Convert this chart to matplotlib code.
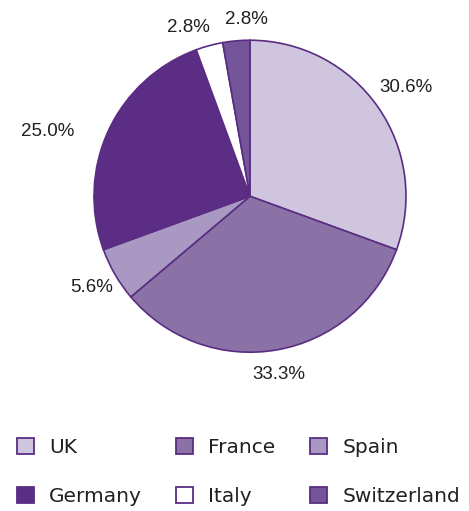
import matplotlib
matplotlib.use("Agg")
import matplotlib.pyplot as plt
from matplotlib.patches import Patch
from matplotlib import font_manager
import numpy as np

countries = ["UK", "France", "Spain", "Germany", "Italy", "Switzerland"]
shares = [30.6, 33.3, 5.6, 25.0, 2.8, 2.8]
labels = ["30.6%", "33.3%", "5.6%", "25.0%", "2.8%", "2.8%"]
colors = ["#d0c5de", "#8b72a6", "#a898c2", "#5b2d84", "#ffffff", "#74559a"]
edge = "#5a2d82"

names = {f.name for f in font_manager.fontManager.ttflist}
label_font = "Liberation Sans Narrow" if "Liberation Sans Narrow" in names else "Liberation Sans"

fig = plt.figure(figsize=(4.69, 5.11), dpi=100)
ax = fig.add_axes([0.533 - 0.3326, 0.616 - 0.3053, 0.6652, 0.6106])
wedges, _ = ax.pie(shares, colors=colors, startangle=90, counterclock=False,
                   wedgeprops=dict(edgecolor=edge, linewidth=1.2))
ax.set_aspect("equal")
ax.set_xlim(-1, 1); ax.set_ylim(-1, 1)

dists = [1.22, 1.16, 1.17, 1.36, 1.15, 1.13]
offs = [0, -1, 0, 7, 5, -4]
for w, lab, d, o in zip(wedges, labels, dists, offs):
    ang = np.deg2rad((w.theta1 + w.theta2) / 2 + o)
    ax.text(d * np.cos(ang), d * np.sin(ang), lab, ha="center", va="center",
            fontsize=13.5, family=label_font, color="#231f20")

order = [0, 3, 1, 4, 2, 5]
handles = [Patch(facecolor=colors[i], edgecolor=edge, linewidth=1.3, label=countries[i]) for i in order]
leg = fig.legend(handles=handles, ncol=3, loc="upper left", bbox_to_anchor=(0.036, 0.143),
                 frameon=False, handlelength=0.85, handleheight=0.85,
                 handletextpad=0.75, columnspacing=1.7, labelspacing=1.5,
                 borderaxespad=0, borderpad=0, prop=dict(family="DejaVu Sans", size=14.5))
for t in leg.get_texts():
    t.set_color("#231f20")

fig.savefig("out.png", dpi=100)
